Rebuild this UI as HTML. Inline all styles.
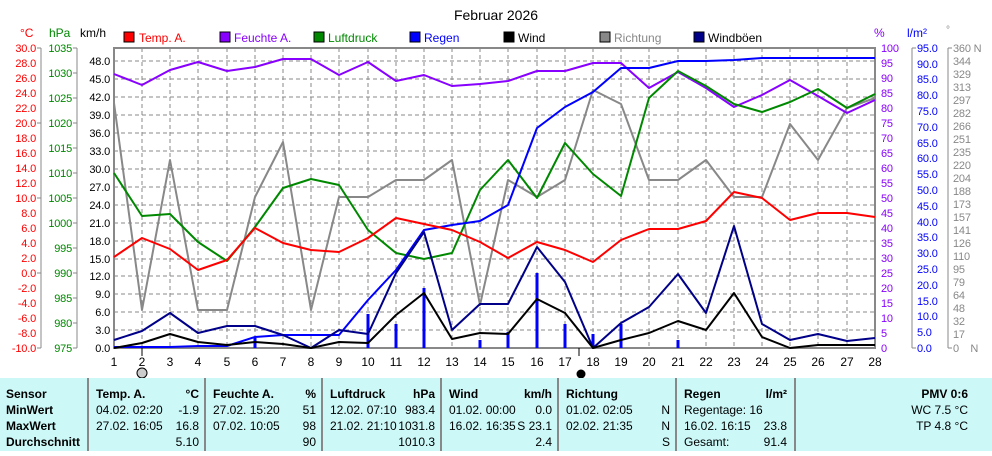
<!DOCTYPE html>
<html><head><meta charset="utf-8"><style>
body{margin:0;background:#fff;}
svg text{font-family:"Liberation Sans",Arial,sans-serif;}
.ax text{font-size:11px;letter-spacing:-0.2px;}
</style></head><body>
<svg width="992" height="451" viewBox="0 0 992 451" xmlns="http://www.w3.org/2000/svg">
<rect width="992" height="451" fill="#fff"/>
<text x="496" y="20" font-size="14" text-anchor="middle">Februar 2026</text>
<g font-size="12">
<text x="20" y="37" fill="#f00">°C</text>
<text x="49" y="37" fill="#080">hPa</text>
<text x="80" y="37">km/h</text>
<text x="874" y="37" fill="#80f">%</text>
<text x="907" y="37" fill="#00f">l/m²</text>
<text x="946" y="33" fill="#888" font-size="10">°</text>
</g>
<g font-size="12">
<rect x="124" y="32" width="10" height="10" fill="#f00" stroke="#000"/><text x="139" y="42" fill="#f00">Temp. A.</text>
<rect x="220" y="32" width="10" height="10" fill="#80f" stroke="#000"/><text x="234" y="42" fill="#80f">Feuchte A.</text>
<rect x="314" y="32" width="10" height="10" fill="#080" stroke="#000"/><text x="328" y="42" fill="#080">Luftdruck</text>
<rect x="410" y="32" width="10" height="10" fill="#00f" stroke="#000"/><text x="424" y="42" fill="#00f">Regen</text>
<rect x="504" y="32" width="10" height="10" fill="#000" stroke="#000"/><text x="518" y="42">Wind</text>
<rect x="600" y="32" width="10" height="10" fill="#888" stroke="#000"/><text x="614" y="42" fill="#888">Richtung</text>
<rect x="694" y="32" width="10" height="10" fill="#008" stroke="#000"/><text x="708" y="42">Windböen</text>
</g>
<g stroke="#888" stroke-dasharray="4,3" stroke-width="1">
<line x1="142" y1="48" x2="142" y2="348"/><line x1="170" y1="48" x2="170" y2="348"/><line x1="198" y1="48" x2="198" y2="348"/><line x1="227" y1="48" x2="227" y2="348"/><line x1="255" y1="48" x2="255" y2="348"/><line x1="283" y1="48" x2="283" y2="348"/><line x1="311" y1="48" x2="311" y2="348"/><line x1="339" y1="48" x2="339" y2="348"/><line x1="368" y1="48" x2="368" y2="348"/><line x1="396" y1="48" x2="396" y2="348"/><line x1="424" y1="48" x2="424" y2="348"/><line x1="452" y1="48" x2="452" y2="348"/><line x1="480" y1="48" x2="480" y2="348"/><line x1="508" y1="48" x2="508" y2="348"/><line x1="537" y1="48" x2="537" y2="348"/><line x1="565" y1="48" x2="565" y2="348"/><line x1="593" y1="48" x2="593" y2="348"/><line x1="621" y1="48" x2="621" y2="348"/><line x1="649" y1="48" x2="649" y2="348"/><line x1="678" y1="48" x2="678" y2="348"/><line x1="706" y1="48" x2="706" y2="348"/><line x1="734" y1="48" x2="734" y2="348"/><line x1="762" y1="48" x2="762" y2="348"/><line x1="790" y1="48" x2="790" y2="348"/><line x1="818" y1="48" x2="818" y2="348"/><line x1="847" y1="48" x2="847" y2="348"/>
<line x1="114" y1="61" x2="875" y2="61"/><line x1="114" y1="79" x2="875" y2="79"/><line x1="114" y1="97" x2="875" y2="97"/><line x1="114" y1="115" x2="875" y2="115"/><line x1="114" y1="133" x2="875" y2="133"/><line x1="114" y1="151" x2="875" y2="151"/><line x1="114" y1="169" x2="875" y2="169"/><line x1="114" y1="187" x2="875" y2="187"/><line x1="114" y1="205" x2="875" y2="205"/><line x1="114" y1="223" x2="875" y2="223"/><line x1="114" y1="241" x2="875" y2="241"/><line x1="114" y1="259" x2="875" y2="259"/><line x1="114" y1="276" x2="875" y2="276"/><line x1="114" y1="294" x2="875" y2="294"/><line x1="114" y1="312" x2="875" y2="312"/><line x1="114" y1="330" x2="875" y2="330"/>
</g>
<g stroke="#888" stroke-width="2" fill="none">
<polyline points="114,348 114,48 875,48 875,348"/>
<line x1="113" y1="348" x2="876" y2="348"/>
<line x1="41" y1="48" x2="41" y2="348" stroke-width="1"/>
<line x1="77" y1="48" x2="77" y2="348" stroke-width="1"/>
<line x1="912" y1="48" x2="912" y2="348" stroke-width="1"/>
<line x1="948" y1="48" x2="948" y2="348" stroke-width="1"/>
<line x1="142" y1="348" x2="142" y2="356" stroke="#000" stroke-width="1"/>
<line x1="579" y1="348" x2="579" y2="356" stroke="#000" stroke-width="1"/>
</g>
<g stroke="#888" stroke-width="1">
<line x1="37" y1="48" x2="41" y2="48"/><line x1="37" y1="123" x2="41" y2="123"/><line x1="37" y1="198" x2="41" y2="198"/><line x1="37" y1="273" x2="41" y2="273"/><line x1="37" y1="348" x2="41" y2="348"/>
<line x1="73" y1="48" x2="77" y2="48"/><line x1="73" y1="73" x2="77" y2="73"/><line x1="73" y1="98" x2="77" y2="98"/><line x1="73" y1="123" x2="77" y2="123"/><line x1="73" y1="148" x2="77" y2="148"/><line x1="73" y1="173" x2="77" y2="173"/><line x1="73" y1="198" x2="77" y2="198"/><line x1="73" y1="223" x2="77" y2="223"/><line x1="73" y1="248" x2="77" y2="248"/><line x1="73" y1="273" x2="77" y2="273"/><line x1="73" y1="298" x2="77" y2="298"/><line x1="73" y1="323" x2="77" y2="323"/><line x1="73" y1="348" x2="77" y2="348"/>
<line x1="912" y1="48" x2="916" y2="48"/><line x1="912" y1="348" x2="916" y2="348"/><line x1="948" y1="48" x2="952" y2="48"/><line x1="948" y1="348" x2="952" y2="348"/>
</g>
<g class="ax">
<g fill="#f00" text-anchor="end">
<text x="36" y="52">30.0</text><text x="36" y="67">28.0</text><text x="36" y="82">26.0</text><text x="36" y="97">24.0</text><text x="36" y="112">22.0</text><text x="36" y="127">20.0</text><text x="36" y="142">18.0</text><text x="36" y="157">16.0</text><text x="36" y="172">14.0</text><text x="36" y="187">12.0</text><text x="36" y="202">10.0</text><text x="36" y="217">8.0</text><text x="36" y="232">6.0</text><text x="36" y="247">4.0</text><text x="36" y="262">2.0</text><text x="36" y="277">0.0</text><text x="36" y="292">-2.0</text><text x="36" y="307">-4.0</text><text x="36" y="322">-6.0</text><text x="36" y="337">-8.0</text><text x="36" y="352">-10.0</text>
</g>
<g fill="#080" text-anchor="end">
<text x="72" y="52">1035</text><text x="72" y="77">1030</text><text x="72" y="102">1025</text><text x="72" y="127">1020</text><text x="72" y="152">1015</text><text x="72" y="177">1010</text><text x="72" y="202">1005</text><text x="72" y="227">1000</text><text x="72" y="252">995</text><text x="72" y="277">990</text><text x="72" y="302">985</text><text x="72" y="327">980</text><text x="72" y="352">975</text>
</g>
<g fill="#000" text-anchor="end">
<text x="110" y="65">48.0</text><text x="110" y="83">45.0</text><text x="110" y="101">42.0</text><text x="110" y="119">39.0</text><text x="110" y="137">36.0</text><text x="110" y="155">33.0</text><text x="110" y="173">30.0</text><text x="110" y="191">27.0</text><text x="110" y="209">24.0</text><text x="110" y="227">21.0</text><text x="110" y="245">18.0</text><text x="110" y="263">15.0</text><text x="110" y="280">12.0</text><text x="110" y="298">9.0</text><text x="110" y="316">6.0</text><text x="110" y="334">3.0</text><text x="110" y="352">0.0</text>
</g>
<g fill="#80f">
<text x="881" y="52">100</text><text x="881" y="67">95</text><text x="881" y="82">90</text><text x="881" y="97">85</text><text x="881" y="112">80</text><text x="881" y="127">75</text><text x="881" y="142">70</text><text x="881" y="157">65</text><text x="881" y="172">60</text><text x="881" y="187">55</text><text x="881" y="202">50</text><text x="881" y="217">45</text><text x="881" y="232">40</text><text x="881" y="247">35</text><text x="881" y="262">30</text><text x="881" y="277">25</text><text x="881" y="292">20</text><text x="881" y="307">15</text><text x="881" y="322">10</text><text x="881" y="337">5</text><text x="881" y="352">0</text>
</g>
<g fill="#00f">
<text x="917" y="52">95.0</text><text x="917" y="68">90.0</text><text x="917" y="83">85.0</text><text x="917" y="99">80.0</text><text x="917" y="115">75.0</text><text x="917" y="131">70.0</text><text x="917" y="147">65.0</text><text x="917" y="162">60.0</text><text x="917" y="178">55.0</text><text x="917" y="194">50.0</text><text x="917" y="210">45.0</text><text x="917" y="226">40.0</text><text x="917" y="241">35.0</text><text x="917" y="257">30.0</text><text x="917" y="273">25.0</text><text x="917" y="289">20.0</text><text x="917" y="305">15.0</text><text x="917" y="320">10.0</text><text x="917" y="336">5.0</text><text x="917" y="352">0.0</text>
</g>
<g fill="#888">
<text x="953" y="52">360 N</text><text x="953" y="65">344</text><text x="953" y="78">329</text><text x="953" y="91">313</text><text x="953" y="104">297</text><text x="953" y="117">282</text><text x="953" y="130">266</text><text x="953" y="143">251</text><text x="953" y="156">235</text><text x="953" y="169">220</text><text x="953" y="182">204</text><text x="953" y="195">188</text><text x="953" y="208">173</text><text x="953" y="221">157</text><text x="953" y="234">141</text><text x="953" y="247">126</text><text x="953" y="260">110</text><text x="953" y="273">95</text><text x="953" y="286">79</text><text x="953" y="299">64</text><text x="953" y="312">48</text><text x="953" y="325">32</text><text x="953" y="338">17</text><text x="953" y="352">0&#160;&#160;&#160;&#160;N</text>
</g>
</g>
<g font-size="12" text-anchor="middle">
<text x="114" y="366">1</text><text x="142" y="366">2</text><text x="170" y="366">3</text><text x="198" y="366">4</text><text x="227" y="366">5</text><text x="255" y="366">6</text><text x="283" y="366">7</text><text x="311" y="366">8</text><text x="339" y="366">9</text><text x="368" y="366">10</text><text x="396" y="366">11</text><text x="424" y="366">12</text><text x="452" y="366">13</text><text x="480" y="366">14</text><text x="508" y="366">15</text><text x="537" y="366">16</text><text x="565" y="366">17</text><text x="593" y="366">18</text><text x="621" y="366">19</text><text x="649" y="366">20</text><text x="678" y="366">21</text><text x="706" y="366">22</text><text x="734" y="366">23</text><text x="762" y="366">24</text><text x="790" y="366">25</text><text x="818" y="366">26</text><text x="847" y="366">27</text><text x="875" y="366">28</text>
</g>
<circle cx="142" cy="373" r="5" fill="#ccc" stroke="#000"/>
<circle cx="581" cy="374" r="4.5" fill="#000"/>
<g stroke="#00f" stroke-width="3">
<line x1="255" y1="348" x2="255" y2="338"/><line x1="368" y1="348" x2="368" y2="314"/><line x1="396" y1="348" x2="396" y2="324"/><line x1="424" y1="348" x2="424" y2="288"/><line x1="480" y1="348" x2="480" y2="340"/><line x1="508" y1="348" x2="508" y2="332"/><line x1="537" y1="348" x2="537" y2="273"/><line x1="565" y1="348" x2="565" y2="324"/><line x1="593" y1="348" x2="593" y2="334"/><line x1="621" y1="348" x2="621" y2="324"/><line x1="678" y1="348" x2="678" y2="340"/>
</g>
<g fill="none" stroke-width="2" stroke-linejoin="round">
<polyline stroke="#888" points="114,103 142,310 170,160 198,310 227,310 255,197 283,142 311,310 339,197 368,197 396,180 424,180 452,160 480,305 508,180 537,197 565,180 593,90 621,104 649,180 678,180 706,160 734,197 762,197 790,124 818,160 847,108 875,98"/>
<polyline stroke="#80f" points="114,74 142,85 170,70 198,62 227,71 255,67 283,59 311,59 339,75 368,62 396,81 424,75 452,86 480,84 508,81 537,71 565,71 593,63 621,63 649,88 678,72 706,88 734,107 762,95 790,80 818,96 847,113 875,100"/>
<polyline stroke="#080" points="114,173 142,216 170,214 198,242 227,261 255,227 283,188 311,179 339,185 368,230 396,253 424,259 452,253 480,190 508,160 537,198 565,143 593,174 621,196 649,98 678,71 706,86 734,104 762,112 790,102 818,89 847,108 875,94"/>
<polyline stroke="#00f" points="114,347 142,347 170,347 198,346 227,346 255,337 283,335 311,335 339,335 368,300 396,270 424,230 452,225 480,221 508,205 537,128 565,107 593,92 621,68 649,68 678,61 706,61 734,60 762,58 790,58 818,58 847,58 875,58"/>
<polyline stroke="#f00" points="114,257 142,238 170,249 198,270 227,260 255,228 283,243 311,250 339,252 368,238 396,218 424,224 452,230 480,242 508,258 537,242 565,250 593,262 621,240 649,229 678,229 706,221 734,192 762,198 790,220 818,213 847,213 875,217"/>
<polyline stroke="#008" points="114,340 142,331 170,313 198,333 227,326 255,326 283,335 311,348 339,330 368,334 396,273 424,232 452,330 480,304 508,304 537,247 565,282 593,348 621,323 649,307 678,274 706,313 734,226 762,324 790,340 818,334 847,341 875,338"/>
<polyline stroke="#000" points="114,348 142,343 170,334 198,342 227,345 255,342 283,344 311,348 339,342 368,343 396,315 424,293 452,339 480,333 508,334 537,299 565,313 593,348 621,340 649,333 678,321 706,330 734,293 762,337 790,348 818,345 847,345 875,345"/>
</g>
<rect x="0" y="378" width="992" height="73" fill="#ccf8f8"/>
<g stroke="#888" stroke-width="2">
<line x1="88" y1="378" x2="88" y2="451"/><line x1="205" y1="378" x2="205" y2="451"/><line x1="322" y1="378" x2="322" y2="451"/><line x1="441" y1="378" x2="441" y2="451"/><line x1="558" y1="378" x2="558" y2="451"/><line x1="676" y1="378" x2="676" y2="451"/><line x1="795" y1="378" x2="795" y2="451"/>
</g>
<g font-size="12">
<g font-weight="bold"><text x="6" y="398">Sensor</text><text x="6" y="414">MinWert</text><text x="6" y="430">MaxWert</text><text x="6" y="446">Durchschnitt</text>
<text x="96" y="398">Temp. A.</text><text x="213" y="398">Feuchte A.</text><text x="330" y="398">Luftdruck</text><text x="449" y="398">Wind</text><text x="566" y="398">Richtung</text><text x="684" y="398">Regen</text>
<g text-anchor="end"><text x="199" y="398">°C</text><text x="316" y="398">%</text><text x="435" y="398">hPa</text><text x="552" y="398">km/h</text><text x="787" y="398">l/m²</text><text x="968" y="398">PMV 0:6</text></g></g>
<text x="96" y="414">04.02.  02:20</text><text x="96" y="430">27.02.  16:05</text>
<text x="213" y="414">27.02.  15:20</text><text x="213" y="430">07.02.  10:05</text>
<text x="330" y="414">12.02.  07:10</text><text x="330" y="430">21.02.  21:10</text>
<text x="449" y="414">01.02.  00:00</text><text x="449" y="430">16.02.  16:35</text>
<text x="566" y="414">01.02.  02:05</text><text x="566" y="430">02.02.  21:35</text>
<text x="684" y="414">Regentage: 16</text><text x="684" y="430">16.02.  16:15</text><text x="684" y="446">Gesamt:</text>
<g text-anchor="end">
<text x="199" y="414">-1.9</text><text x="199" y="430">16.8</text><text x="199" y="446">5.10</text>
<text x="316" y="414">51</text><text x="316" y="430">98</text><text x="316" y="446">90</text>
<text x="435" y="414">983.4</text><text x="435" y="430">1031.8</text><text x="435" y="446">1010.3</text>
<text x="552" y="414">0.0</text><text x="552" y="430">S 23.1</text><text x="552" y="446">2.4</text>
<text x="670" y="414">N</text><text x="670" y="430">N</text><text x="670" y="446">S</text>
<text x="787" y="430">23.8</text><text x="787" y="446">91.4</text>
<text x="968" y="414">WC 7.5 °C</text><text x="968" y="430">TP 4.8 °C</text>
</g></g>
</svg>
</body></html>
